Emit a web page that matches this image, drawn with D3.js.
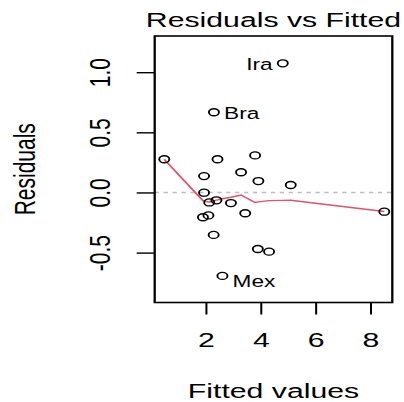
<!DOCTYPE html>
<html>
<head>
<meta charset="utf-8">
<script src="https://cdn.jsdelivr.net/npm/d3@7"></script>
<style>
    body { margin: 0; background: #fff; }
    svg { display: block; font-family: "Liberation Sans", Arial, sans-serif; }
</style>
</head>
<body>
<svg width="404" height="402"></svg>
<script>
// values
var fitted = [0.49, 2.43, 3.80, 1.94, 3.29, 3.92, 5.10, 1.94, 2.13, 2.39, 2.92,
              3.44, 1.90, 2.10, 2.29, 3.90, 4.31, 2.61, 8.51, 4.81, 2.30];
var residuals = [0.276, 0.276, 0.308, 0.136, 0.168, 0.095, 0.062, -0.002, -0.083, -0.065, -0.088,
                 -0.173, -0.206, -0.191, -0.353, -0.470, -0.492, -0.694, -0.160, 1.074, 0.667];
var pointLabels = ["", "", "", "", "", "", "", "", "", "", "",
                   "", "", "", "", "", "", "Mex", "", "Ira", "Bra"];
var smoothX = [0.49, 1.90, 1.94, 2.13, 2.39, 2.61, 2.92, 3.29, 3.44, 3.80, 3.92, 4.31, 4.81, 5.10, 8.51];
var smoothY = [0.276, -0.068, -0.072, -0.079, -0.063, -0.052, -0.040, -0.021, -0.040, -0.083, -0.078, -0.068, -0.066, -0.065, -0.158];
var xTicks = [2, 4, 6, 8];
var yTicks = [-0.5, 0, 0.5, 1.0];

// the reference is stretched sideways, so draw in a squeezed frame and scale it back
var stretch = 1.44;
var svg = d3.select("svg");
var g = svg.append("g").attr("transform", "scale(" + stretch + ",1)");

var plotLeft = 154.7 / stretch, plotRight = 392.3 / stretch, plotTop = 36, plotBottom = 302.5;

var x = d3.scaleLinear().domain([0.141, 8.802]).range([plotLeft, plotRight]);
var y = d3.scaleLinear().domain([-0.915, 1.301]).range([plotBottom, plotTop]);

var data = fitted.map(function (f, i) {
    return { fitted: f, resid: residuals[i], label: pointLabels[i] };
});

// zero reference line
g.append("line")
    .attr("x1", plotLeft).attr("x2", plotRight)
    .attr("y1", y(0)).attr("y2", y(0))
    .attr("stroke", "#bebebe")
    .attr("stroke-width", 1.4)
    .attr("stroke-dasharray", "3,3.2");

// smoother
var line = d3.line()
    .x(function (d) { return x(d[0]); })
    .y(function (d) { return y(d[1]); });
g.append("path")
    .datum(smoothX.map(function (v, i) { return [v, smoothY[i]]; }))
    .attr("d", line)
    .attr("fill", "none")
    .attr("stroke", "#DF536B")
    .attr("stroke-width", 1.4);

// points
g.selectAll("circle.pt")
    .data(data)
    .enter().append("circle")
    .attr("class", "pt")
    .attr("cx", function (d) { return x(d.fitted); })
    .attr("cy", function (d) { return y(d.resid); })
    .attr("r", 3.5)
    .attr("fill", "none")
    .attr("stroke", "#000")
    .attr("stroke-width", 1.3);

// id labels: right of the point on the left half, left of it on the right half
var midX = (d3.min(fitted) + d3.max(fitted)) / 2;
g.selectAll("text.id")
    .data(data.filter(function (d) { return d.label; }))
    .enter().append("text")
    .attr("class", "id")
    .attr("x", function (d) { return x(d.fitted) + (d.fitted > midX ? -7 : 7); })
    .attr("y", function (d) { return y(d.resid) + 6.8 + (d.resid < 0 ? 4 : 0); })
    .attr("text-anchor", function (d) { return d.fitted > midX ? "end" : "start"; })
    .attr("font-size", 15.75)
    .attr("fill", "#000")
    .text(function (d) { return d.label; });

// axes
var xAxis = g.append("g")
    .attr("transform", "translate(0," + plotBottom + ")")
    .call(d3.axisBottom(x).tickValues(xTicks).tickSize(12).tickFormat(d3.format("d")));
xAxis.select(".domain").remove();
xAxis.selectAll("line").attr("stroke", "#000").attr("stroke-width", 1.4);
xAxis.selectAll("text")
    .attr("y", 44.8).attr("dy", 0)
    .attr("font-size", 21)
    .attr("fill", "#000");

var yAxis = g.append("g")
    .attr("transform", "translate(" + plotLeft + ",0)")
    .call(d3.axisLeft(y).tickValues(yTicks).tickSize(12.5).tickFormat(d3.format(".1f")));
yAxis.select(".domain").remove();
yAxis.selectAll("line").attr("stroke", "#000").attr("stroke-width", 1.4);
yAxis.selectAll("text")
    .attr("x", 0).attr("dy", 0)
    .attr("transform", "translate(-31,0) rotate(-90)")
    .attr("text-anchor", "middle")
    .attr("font-size", 21)
    .attr("fill", "#000")
    .text(function (d) { return d3.format(".1f")(d).replace("\u2212", "-"); });

// box
g.append("rect")
    .attr("x", plotLeft).attr("y", plotTop)
    .attr("width", plotRight - plotLeft).attr("height", plotBottom - plotTop)
    .attr("fill", "none")
    .attr("stroke", "#000")
    .attr("stroke-width", 1.6);

// titles
var cx = (plotLeft + plotRight) / 2;
g.append("text")
    .attr("x", cx).attr("y", 26.7)
    .attr("text-anchor", "middle")
    .attr("font-size", 21)
    .text("Residuals vs Fitted");
g.append("text")
    .attr("x", cx).attr("y", 398.3)
    .attr("text-anchor", "middle")
    .attr("font-size", 21)
    .text("Fitted values");
g.append("text")
    .attr("transform", "translate(" + (35 / stretch) + "," + ((plotTop + plotBottom) / 2) + ") rotate(-90)")
    .attr("text-anchor", "middle")
    .attr("font-size", 21)
    .text("Residuals");
</script>
</body>
</html>
